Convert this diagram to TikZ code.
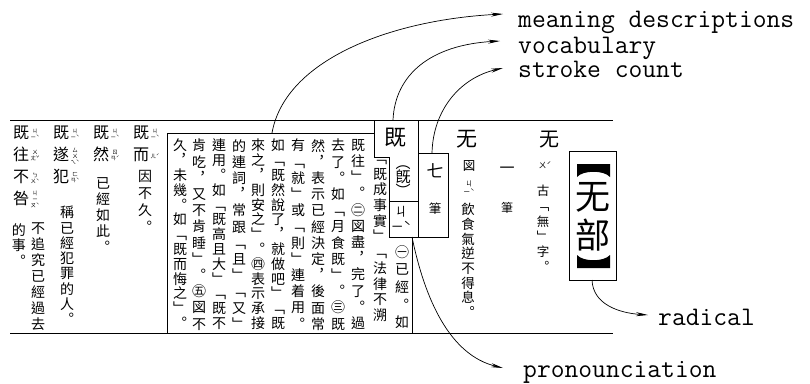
\documentclass[tikz,border=0pt]{standalone}
\usepackage{fontspec}
\newfontfamily\cjk{Noto Sans CJK TC}
\usetikzlibrary{arrows.meta}
\makeatletter
\newcommand\vst[2]{\vbox{\baselineskip=#1\relax\lineskiplimit=-100pt\lineskip=0pt\@tfor\vch:=#2\do{\hbox to 1em{\hss\vch\hss}}}}
\makeatother
\begin{document}
\begin{tikzpicture}[x=1pt,y=-1pt,
  rule/.style={line width=0.9pt},
  bx/.style={line width=0.8pt},
  arr/.style={line width=0.7pt,-{Stealth[length=12pt,width=4pt]}},
  mt/.style={inner sep=0pt,anchor=north,font=\fontsize{14}{14}\selectfont\cjk},
  hw/.style={inner sep=0pt,anchor=north,font=\fontsize{16}{16}\selectfont\cjk},
  bp/.style={inner sep=0pt,font=\fontsize{5.5}{5.5}\selectfont\cjk},
  ch/.style={inner sep=0pt,font=\cjk},
  lbl/.style={inner sep=0pt,anchor=base west,font=\fontsize{26.8}{26.8}\selectfont\ttfamily},
]
\useasboundingbox (0,0) rectangle (810,383);
% rules
\draw[rule] (10,120) -- (613,120);
\draw[rule] (10,333) -- (613,333);
% meaning box
\draw[bx] (374,133) -- (167,133) -- (167,333) -- (412,333) -- (412,237);
% vocabulary box
\draw[bx] (374,120) -- (374,157) -- (389,157) -- (389,237) -- (418,237) -- (418,120);
\draw[bx] (389,201) -- (418,201);
% stroke box
\draw[bx] (418,153) -- (448,153) -- (448,237) -- (418,237);
% radical box
\draw[bx] (569,151) rectangle (616,280);

% radical: black lenticular brackets drawn as shapes, characters as text
\fill (577,164) -- (610,164) -- (610,177) .. controls (604,170) and (583,170) .. (577,177) -- cycle;
\node[ch,font=\fontsize{35}{35}\selectfont\cjk] (rwu) at (593,197) {无};
\node[ch,font=\fontsize{35}{35}\selectfont\cjk] (rbu) at (593,235) {部};
\fill (577,268) -- (610,268) -- (610,255) .. controls (604,262) and (583,262) .. (577,255) -- cycle;

% column wu (right)
\node[ch,font=\fontsize{20}{20}\selectfont\cjk] (wu1) at (549,140) {无};
\node[bp,font=\fontsize{8}{8}\selectfont\cjk] (wu1p) at (545,165) {ㄨˊ};
\node[mt,font=\fontsize{12.5}{12.5}\selectfont\cjk] (wu1d) at (543,185) {\vst{15.2pt}{古﹁無﹂字︒}};
% yi bi
\node[ch,font=\fontsize{15}{15}\selectfont\cjk] (yi) at (507,170) {一};
\node[ch,font=\fontsize{12}{12}\selectfont\cjk] (yibi) at (507,208) {筆};
% column wu (second)
\node[ch,font=\fontsize{21}{21}\selectfont\cjk] (wu2) at (467,139) {无};
\node[ch,font=\fontsize{12.5}{12.5}\selectfont\cjk] (wu2m) at (469,166) {図};
\node[bp,font=\fontsize{7}{7}\selectfont\cjk] (wu2p) at (469,188) {\vst{8pt}{ㄐ{ㄧˋ}}};
\node[mt,font=\fontsize{13.5}{13.5}\selectfont\cjk] (wu2d) at (468,203) {\vst{14.7pt}{飲食氣逆不得息︒}};
% stroke count
\node[ch,font=\fontsize{17}{17}\selectfont\cjk] (qi) at (435,171) {七};
\node[ch,font=\fontsize{12.5}{12.5}\selectfont\cjk] (qibi) at (435,209) {筆};
% vocabulary
\node[ch,font=\fontsize{22}{22}\selectfont\cjk] (ji) at (395,138) {既};
\node[ch,font=\fontsize{15}{15}\selectfont\cjk] (jiv) at (403,181) {\vst{14pt}{︵旣︶}};
\node[ch,font=\fontsize{12.5}{12.5}\selectfont\cjk] (pron) at (401,219) {\vst{15pt}{ㄐ{ㄧˋ}}};

% meaning columns
\node[mt] (c1) at (402,245) {\vst{17.7pt}{㊀已經︒如}};
\node[mt] (c2) at (380,160) {\vst{15.7pt}{﹁既成事實﹂﹁法律不溯}};
\node[mt] (c3) at (358,139) {\vst{16.2pt}{既往﹂︒㊁図盡︐完了︒過}};
\node[mt] (c4) at (338,139) {\vst{16.2pt}{去了︒如﹁月食既﹂︒㊂既}};
\node[mt] (c5) at (318,139) {\vst{16.2pt}{然︐表示已經決定︐後面常}};
\node[mt] (c6) at (298,139) {\vst{16.2pt}{有﹁就﹂或﹁則﹂連着用︒}};
\node[mt] (c7) at (278,139) {\vst{14.8pt}{如﹁既然說了︐就做吧﹂﹁既}};
\node[mt] (c8) at (258,139) {\vst{14.8pt}{來之︐則安之﹂︒㊃表示承接}};
\node[mt] (c9) at (239,139) {\vst{16.2pt}{的連詞︐常跟﹁且﹂﹁又﹂}};
\node[mt] (c10) at (219,139) {\vst{14.8pt}{連用︒如﹁既高且大﹂﹁既不}};
\node[mt] (c11) at (199,139) {\vst{16.2pt}{肯吃︐又不肯睡﹂︒㊄図不}};
\node[mt] (c12) at (180,139) {\vst{14.8pt}{久︐未幾︒如﹁既而悔之﹂︒}};

% left entries: headwords
\node[hw] (h1) at (141,126) {\vst{22pt}{既而}};
\node[hw] (h2) at (101,126) {\vst{22pt}{既然}};
\node[hw] (h3) at (61,126) {\vst{22pt}{既遂犯}};
\node[hw] (h4) at (21,126) {\vst{22pt}{既往不咎}};
% bopomofo
\node[bp] (p11) at (155,134) {\vst{6pt}{ㄐ{ㄧˋ}}};
\node[bp] (p12) at (155,156) {ㄦˊ};
\node[bp] (p21) at (115,134) {\vst{6pt}{ㄐ{ㄧˋ}}};
\node[bp] (p22) at (115,156) {\vst{6pt}{ㄖ{ㄢˊ}}};
\node[bp] (p31) at (75,134) {\vst{6pt}{ㄐ{ㄧˋ}}};
\node[bp] (p32) at (75,156) {\vst{6pt}{ㄙㄨ{ㄟˋ}}};
\node[bp] (p33) at (75,178) {\vst{6pt}{ㄈ{ㄢˋ}}};
\node[bp] (p41) at (35,134) {\vst{6pt}{ㄐ{ㄧˋ}}};
\node[bp] (p42) at (35,156) {\vst{6pt}{ㄨ{ㄤˇ}}};
\node[bp] (p43) at (35,178) {\vst{6pt}{ㄅ{ㄨˋ}}};
\node[bp] (p44) at (35,199) {\vst{6pt}{ㄐㄧ{ㄡˋ}}};
% definitions
\node[mt] (d1) at (145,170) {\vst{17pt}{因不久︒}};
\node[mt] (d2) at (103,177) {\vst{16pt}{已經如此︒}};
\node[mt] (d3) at (67,206) {\vst{15.3pt}{稱已經犯罪的人︒}};
\node[mt] (d4a) at (38,223) {\vst{16pt}{不追究已經過去}};
\node[mt] (d4b) at (19,223) {\vst{15.5pt}{的事︒}};

% labels
\node[lbl] (lmean) at (518,27) {meaning descriptions};
\node[lbl] (lvoc) at (518,53) {vocabulary};
\node[lbl] (lstroke) at (518,77) {stroke count};
\node[lbl] (lrad) at (658,325) {radical};
\node[lbl] (lpron) at (523,377) {pronounciation};

% arrows
\coordinate (am) at (272,133); \coordinate (tm) at (503,14);
\draw[arr] (am) .. controls (285,60) and (390,20) .. (tm);
\coordinate (av) at (393,120); \coordinate (tv) at (500,41);
\draw[arr] (av) .. controls (395,75) and (430,45) .. (tv);
\coordinate (as) at (432,153); \coordinate (ts) at (503,68);
\draw[arr] (as) .. controls (433,110) and (460,78) .. (ts);
\coordinate (ar) at (592,280); \coordinate (tr) at (648,315);
\draw[arr] (ar) .. controls (593,305) and (620,313) .. (tr);
\coordinate (ap) at (412,237); \coordinate (tp) at (503,368);
\draw[arr] (ap) .. controls (425,300) and (450,355) .. (tp);
\end{tikzpicture}
\end{document}
